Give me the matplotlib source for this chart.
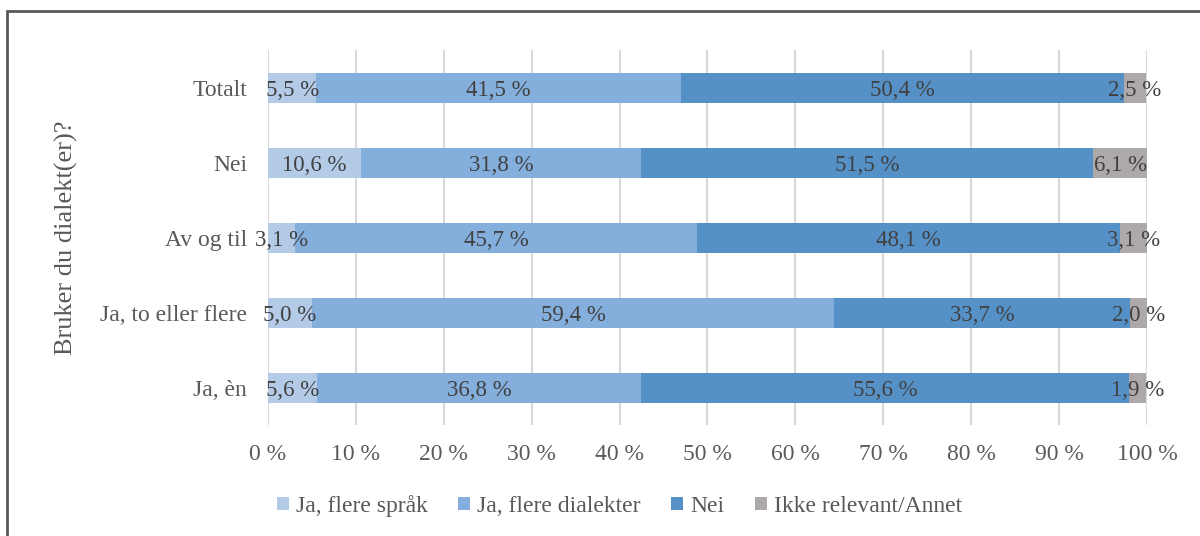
import matplotlib
matplotlib.use("Agg")
import matplotlib.pyplot as plt
from matplotlib.patches import Rectangle

plt.rcParams['font.family'] = ['Liberation Serif', 'DejaVu Serif']

categories = ["Ja, èn", "Ja, to eller flere", "Av og til", "Nei", "Totalt"]
series_names = ["Ja, flere språk", "Ja, flere dialekter", "Nei", "Ikke relevant/Annet"]
flere_sprak = [5.6, 5.0, 3.1, 10.6, 5.5]
flere_dialekter = [36.8, 59.4, 45.7, 31.8, 41.5]
nei = [55.6, 33.7, 48.1, 51.5, 50.4]
ikke_relevant = [1.9, 2.0, 3.1, 6.1, 2.5]
colors = ["#B4CBE8", "#84AEDC", "#5591C7", "#AEA9A9"]
text_color = "#595959"

series = [flere_sprak, flere_dialekter, nei, ikke_relevant]

fig = plt.figure(figsize=(12, 5.36), dpi=100)
ax = fig.add_axes([0.2233, 0.2062, 0.9558 - 0.2233, 0.9058 - 0.2062])

# outer frame
fig.patches.append(Rectangle((7 / 1200, -0.05), 1.1, (1 - 11 / 536) + 0.05,
                             transform=fig.transFigure, fill=False,
                             edgecolor="#595959", linewidth=2, zorder=10))

ypos = list(range(len(categories)))
left = [0.0] * len(categories)
for name, vals, col in zip(series_names, series, colors):
    ax.barh(ypos, vals, left=left, height=0.4, color=col, label=name, zorder=2)
    for y, l, v in zip(ypos, left, vals):
        ax.text(l + v / 2, y, f"{v:.1f} %".replace(".", ","), ha="center",
                va="center_baseline", fontsize=16.5, color="#404040", zorder=3)
    left = [a + b for a, b in zip(left, vals)]

ax.set_xlim(0, 100)
ax.set_ylim(-0.5, 4.5)
ax.set_xticks(range(0, 101, 10))
ax.set_xticklabels([f"{t} %" for t in range(0, 101, 10)])
ax.set_yticks(ypos)
ax.set_yticklabels(categories)
ax.tick_params(axis="both", length=0, labelsize=17, labelcolor=text_color)
ax.tick_params(axis="x", pad=13)
ax.tick_params(axis="y", pad=15)
ax.grid(axis="x", color="#D9D9D9", linewidth=1.5, zorder=0)
ax.set_axisbelow(True)
for s in ax.spines.values():
    s.set_visible(False)

ax.set_ylabel("Bruker du dialekt(er)?", fontsize=19, color=text_color, labelpad=16)

leg = ax.legend(loc="center", bbox_to_anchor=(0.4, -0.215), ncol=4,
                frameon=False, fontsize=17, handlelength=0.5, handleheight=0.5,
                handletextpad=0.3, columnspacing=1.3, labelcolor=text_color)

fig.savefig("out.png", dpi=100, facecolor="white")
